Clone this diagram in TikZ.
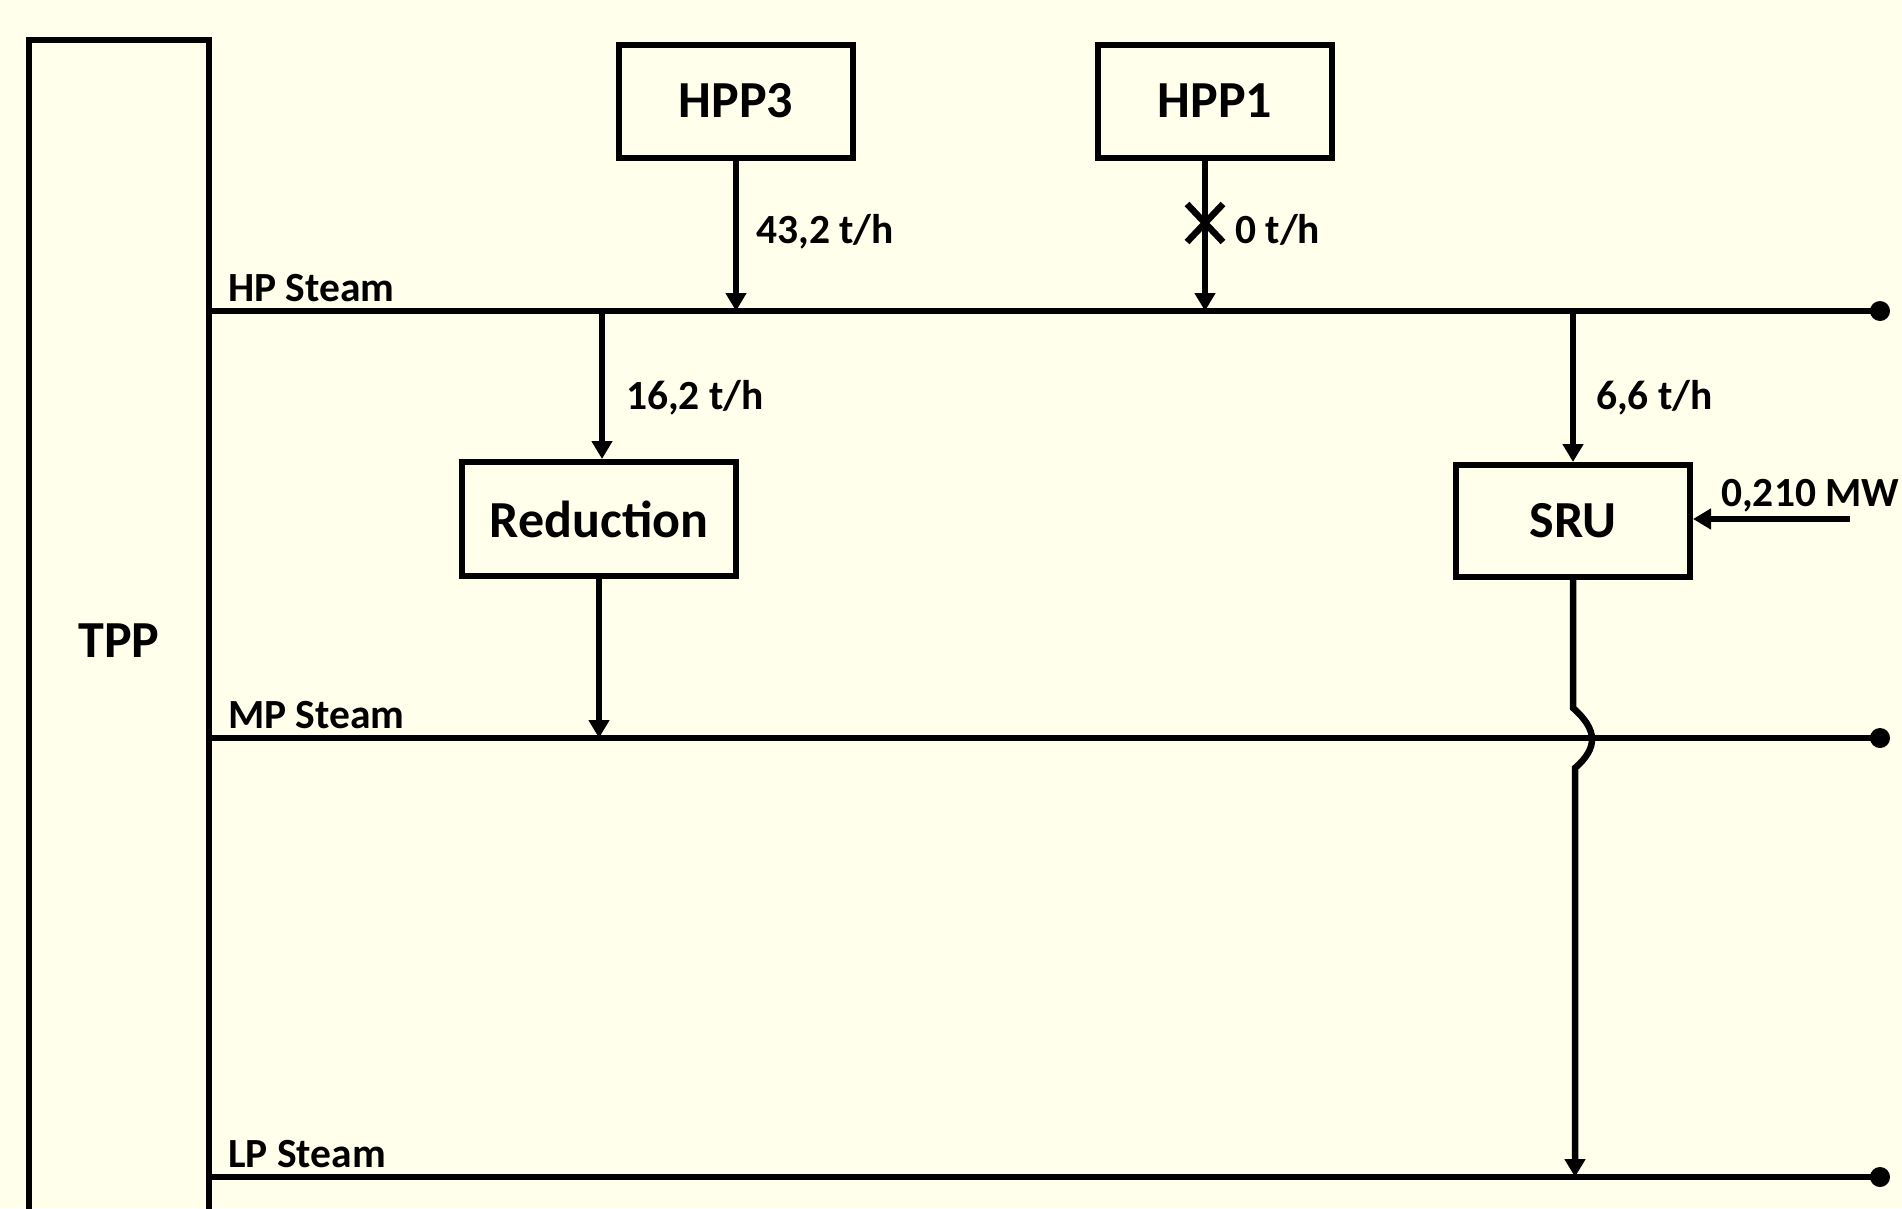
\documentclass[tikz,border=0pt]{standalone}
\usepackage{fontspec}
\setmainfont{Carlito}
\usetikzlibrary{arrows.meta,calc}
\definecolor{bgc}{RGB}{255,255,235}
\tikzset{
  unit/.style={draw, line width=6pt, rectangle, inner sep=0pt, minimum width=234pt, minimum height=113pt, font=\fontsize{52}{60}\selectfont\bfseries},
  pipe/.style={line width=6.5pt},
  flow/.style={line width=6.5pt, -{Triangle[width=20pt,length=18pt]}},
  lbl/.style={inner sep=0pt, anchor=base west, font=\fontsize{41.5}{48}\selectfont\bfseries},
  enddot/.style={fill=black},
}
\begin{document}
\begin{tikzpicture}[x=1pt,y=-1pt]
\useasboundingbox (0,0) rectangle (1902,1208);
\fill[bgc] (0,0) rectangle (1902,1208);

% TPP column
\node[unit, minimum width=180pt, minimum height=1202pt, line width=6.5pt] (tpp) at (119,641) {TPP};

% units
\node[unit] (hpp3) at (736,101) {HPP3};
\node[unit] (hpp1) at (1215,101) {HPP1};
\node[unit, minimum width=274pt, minimum height=114pt] (red) at (599,519) {Reduction};
\node[unit, minimum height=112pt] (sru) at (1573,521) {SRU};

% headers
\coordinate (hpR) at (1880,311);
\coordinate (mpR) at (1880,738);
\coordinate (lpR) at (1880,1177);
\draw[pipe] (tpp.east |- hpR) -- (hpR);
\draw[pipe] (tpp.east |- mpR) -- (mpR);
\draw[pipe] (tpp.east |- lpR) -- (lpR);
\fill[enddot] (hpR) circle (10pt);
\fill[enddot] (mpR) circle (10pt);
\fill[enddot] (lpR) circle (10pt);

\node[lbl] (hpl) at (228,301) {HP Steam};
\node[lbl] (mpl) at (228,728) {MP Steam};
\node[lbl] (lpl) at (228,1167) {LP Steam};

% HPP3 -> HP
\draw[flow] (hpp3.south) -- (hpp3.south |- hpR);
\node[lbl] (f1) at (756,243) {43,2 t/h};

% HPP1 -> HP (closed)
\coordinate (h1o) at (1205,158);
\draw[flow] (h1o) -- (h1o |- hpR);
\coordinate (xm) at (1205,223);
\draw[line width=6.5pt] ($(xm)+(-18,-19)$) -- ($(xm)+(18,19)$);
\draw[line width=6.5pt] ($(xm)+(18,-19)$) -- ($(xm)+(-18,19)$);
\node[lbl] (f2) at (1235,243) {0 t/h};

% HP -> Reduction -> MP
\coordinate (redin) at (602,311);
\draw[flow] (redin) -- (redin |- red.north);
\node[lbl] (f3) at (626,409) {16,2 t/h};
\draw[flow] (red.south) -- (red.south |- mpR);

% HP -> SRU
\draw[flow] (sru.north |- hpR) -- (sru.north);
\node[lbl] (f4) at (1596,409) {6,6 t/h};

% power to SRU
\coordinate (pw) at (1850,519);
\draw[flow] (pw) -- (sru.east |- pw);
\node[lbl] (f5) at (1721,506) {0,210 MW};

% SRU -> LP with jump over MP
\coordinate (j1) at (1573,708);
\coordinate (j2) at (1575,768);
\draw[flow] (sru.south) -- (j1) .. controls (1598,730) and (1598,748) .. (j2) -- (j2 |- lpR);
\end{tikzpicture}
\end{document}
